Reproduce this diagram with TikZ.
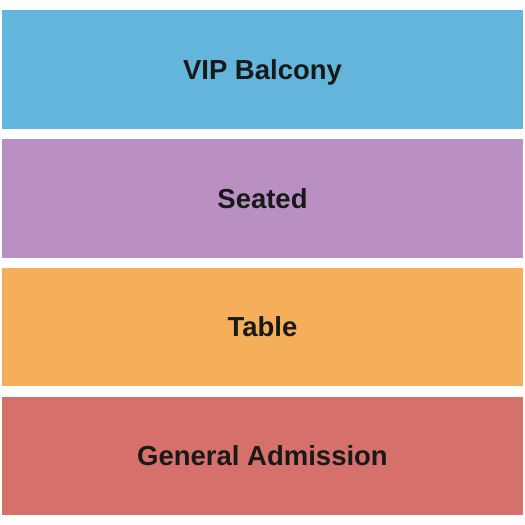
\documentclass[tikz,border=0pt]{standalone}
\usepackage{fontspec}
\setmainfont{Liberation Sans}
\definecolor{vipblue}{HTML}{64B5DC}
\definecolor{seatpurple}{HTML}{BA90C2}
\definecolor{tableorange}{HTML}{F5AE5A}
\definecolor{garred}{HTML}{D6706B}
\tikzset{
  section/.style={fill=#1,draw=none,inner sep=0pt,minimum width=\swid,minimum height=\shgt,
    font=\bfseries\fontsize{27.5}{30}\selectfont,text=black!90,text height=19.7pt,text depth=0pt}
}
\def\swid{521pt}
\def\shgt{118.5pt}

\begin{document}
\begin{tikzpicture}[x=1pt,y=-1pt]
  \useasboundingbox (0,0) rectangle (525,525);
  % Sections
  \foreach \sname/\scol/\sy/\stxt in {vip/vipblue/69.25/VIP Balcony,seated/seatpurple/198.25/Seated,
      table/tableorange/327/Table,ga/garred/456/General Admission}
    \node[section=\scol] (\sname) at (262.5,\sy) {\stxt};
\end{tikzpicture}
\end{document}
